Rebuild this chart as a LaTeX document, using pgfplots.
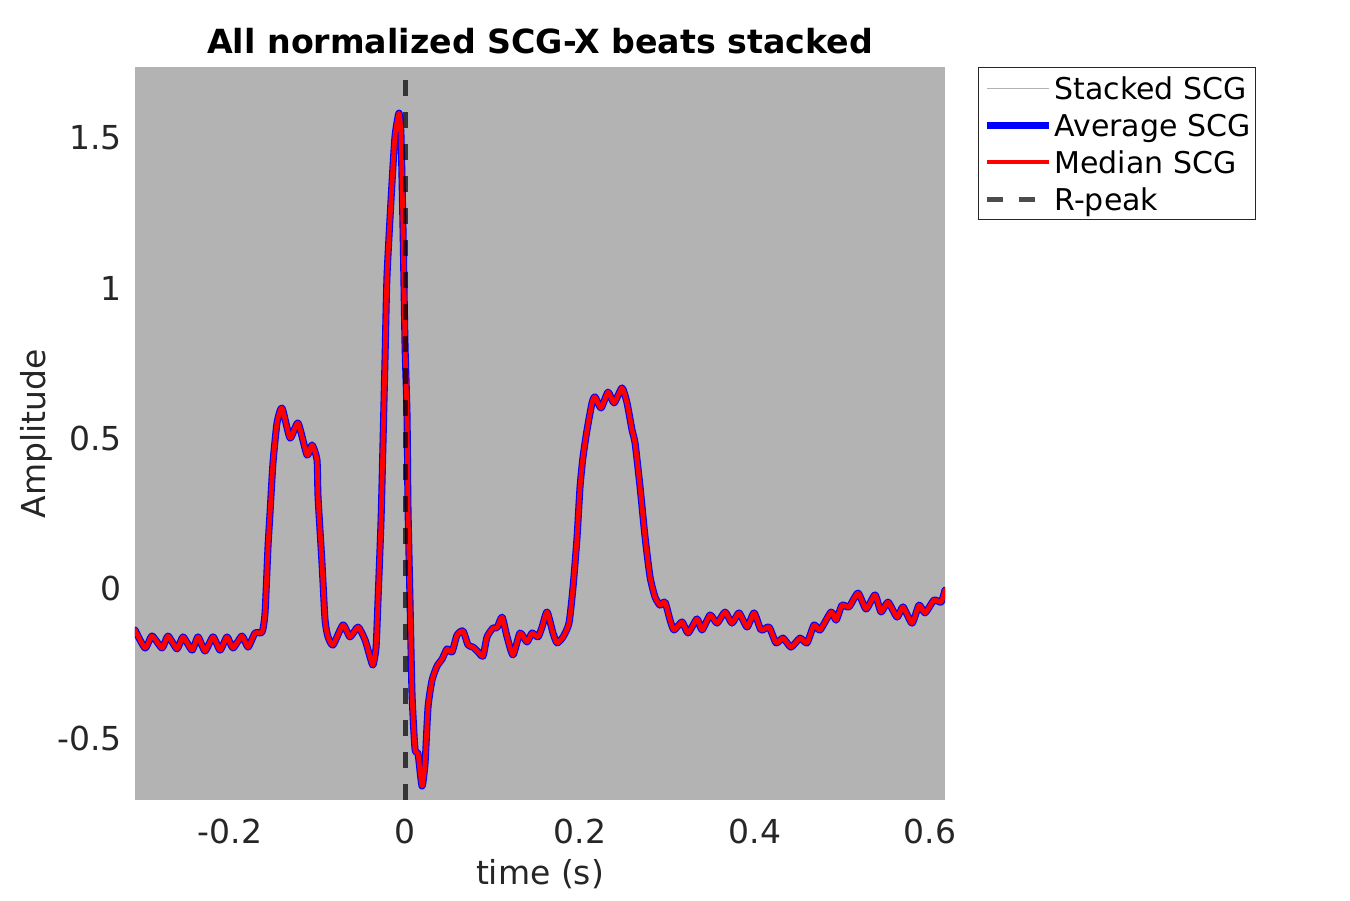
\documentclass[border=0pt]{standalone}
\usepackage{pgfplots}
\pgfplotsset{compat=1.18}
\usepackage{pgfplotstable}
\usepackage{fontspec}
\setmainfont{DejaVu Sans}
\definecolor{axbg}{rgb}{0.702,0.702,0.702}
\definecolor{txtgray}{rgb}{0.15,0.15,0.15}

\pgfplotstableread{
t y
-0.3086 -0.140
-0.2971 -0.200
-0.2891 -0.160
-0.2777 -0.200
-0.2709 -0.160
-0.2606 -0.203
-0.2537 -0.163
-0.2434 -0.207
-0.2366 -0.163
-0.2286 -0.210
-0.2194 -0.163
-0.2114 -0.207
-0.2034 -0.163
-0.1966 -0.200
-0.1863 -0.160
-0.1794 -0.197
-0.1714 -0.150
-0.1634 -0.147
-0.1600 -0.083
-0.1566 0.137
-0.1543 0.250
-0.1509 0.417
-0.1463 0.550
-0.1406 0.600
-0.1314 0.500
-0.1223 0.550
-0.1120 0.443
-0.1063 0.477
-0.1006 0.427
-0.0994 0.303
-0.0949 0.083
-0.0914 -0.107
-0.0880 -0.163
-0.0823 -0.190
-0.0709 -0.123
-0.0629 -0.163
-0.0537 -0.130
-0.0457 -0.173
-0.0400 -0.230
-0.0366 -0.257
-0.0331 -0.197
-0.0309 -0.043
-0.0274 0.227
-0.0251 0.493
-0.0229 0.760
-0.0206 1.040
-0.0149 1.350
-0.0114 1.507
-0.0069 1.583
-0.0046 1.510
-0.0023 1.197
0.0000 0.810
0.0023 0.577
0.0034 0.267
0.0057 -0.043
0.0080 -0.353
0.0114 -0.537
0.0149 -0.553
0.0194 -0.660
0.0229 -0.583
0.0263 -0.397
0.0309 -0.307
0.0366 -0.260
0.0423 -0.237
0.0480 -0.203
0.0537 -0.213
0.0594 -0.157
0.0663 -0.143
0.0720 -0.190
0.0777 -0.197
0.0834 -0.213
0.0891 -0.227
0.0937 -0.163
0.1006 -0.133
0.1051 -0.133
0.1109 -0.097
0.1166 -0.163
0.1234 -0.223
0.1314 -0.150
0.1394 -0.180
0.1451 -0.150
0.1520 -0.163
0.1566 -0.130
0.1623 -0.080
0.1691 -0.150
0.1737 -0.183
0.1806 -0.163
0.1874 -0.117
0.1920 0.003
0.1966 0.170
0.2000 0.337
0.2034 0.437
0.2080 0.527
0.2137 0.617
0.2171 0.637
0.2240 0.600
0.2320 0.653
0.2389 0.617
0.2480 0.667
0.2537 0.617
0.2594 0.527
0.2629 0.483
0.2686 0.337
0.2743 0.170
0.2800 0.037
0.2857 -0.030
0.2914 -0.057
0.2971 -0.047
0.3029 -0.107
0.3074 -0.140
0.3166 -0.113
0.3234 -0.150
0.3337 -0.103
0.3394 -0.140
0.3486 -0.090
0.3566 -0.117
0.3657 -0.080
0.3737 -0.117
0.3817 -0.083
0.3909 -0.130
0.3989 -0.083
0.4069 -0.140
0.4160 -0.130
0.4240 -0.183
0.4320 -0.167
0.4411 -0.197
0.4514 -0.167
0.4594 -0.183
0.4674 -0.123
0.4743 -0.140
0.4869 -0.080
0.4926 -0.107
0.4994 -0.057
0.5074 -0.063
0.5177 -0.017
0.5269 -0.070
0.5371 -0.023
0.5440 -0.080
0.5520 -0.047
0.5623 -0.097
0.5691 -0.063
0.5794 -0.117
0.5874 -0.057
0.5943 -0.083
0.6046 -0.040
0.6126 -0.047
0.6171 -0.007
}\scg

\begin{document}
\begin{tikzpicture}
\fill[white] (-54pt,-40pt) rectangle (486pt,320pt);
\useasboundingbox (-54pt,-40pt) rectangle (486pt,320pt);
\begin{axis}[
  at={(0,0)}, anchor=south west,
  width=324pt, height=293.2pt, scale only axis,
  xmin=-0.3086, xmax=0.6171, ymin=-0.7067, ymax=1.7367,
  axis background/.style={fill=axbg},
  axis line style={draw=none},
  major tick style={draw=none},
  xtick={-0.2,0,0.2,0.4,0.6},
  xticklabels={-0.2,0,0.2,0.4,0.6},
  ytick={-0.5,0,0.5,1,1.5},
  yticklabels={-0.5,0,0.5,1,1.5},
  xticklabel style={font=\fontsize{13.2}{15}\selectfont, text=txtgray, anchor=base, inner sep=0pt, yshift=-17.2pt},
  yticklabel style={font=\fontsize{13.2}{15}\selectfont, text=txtgray, anchor=east, inner sep=0pt, xshift=-5.2pt},
  every axis x label/.style={at={(axis description cs:0.5,-0.1146)}, anchor=base, font=\fontsize{13.2}{15}\selectfont, text=txtgray},
  every axis y label/.style={at={(axis description cs:-0.1099,0.5)}, anchor=base, rotate=90, font=\fontsize{13.2}{15}\selectfont, text=txtgray},
  every axis title/.style={at={(axis description cs:0.5,1.0191)}, anchor=base, font=\bfseries\fontsize{13.3}{15}\selectfont, text=black},
  xlabel={time (s)},
  ylabel={Amplitude},
  title={All normalized SCG-X beats stacked},
  legend cell align=left,
  legend style={at={(1.0407,1)}, anchor=north west, draw=txtgray, line width=0.4pt, fill=white,
    inner xsep=2pt, inner ysep=0.8pt, row sep=0pt, column sep=0pt,
    font=\fontsize{12}{14.8}\selectfont,
    nodes={inner sep=0pt, text height=11.8pt, text depth=3pt, text=black}},
  legend image code/.code={\draw[#1, line cap=butt] (0pt,0pt) -- (24.8pt,0pt); \path (25.6pt,0pt);},
]
\addlegendimage{color=axbg, line width=0.4pt}
\addlegendentry{Stacked SCG}
\addplot[blue, line width=2.8pt, line join=round, line cap=round, smooth, tension=0.35] table {\scg};
\addlegendentry{Average SCG}
\addplot[red, line width=1.9pt, line join=round, line cap=round, smooth, tension=0.35] table {\scg};
\addlegendentry{Median SCG}
\addplot[black, opacity=0.7, line width=2pt, dash pattern=on 6.4pt off 6.4pt] coordinates {(0,-0.7067) (0,1.7367)};
\addlegendentry{R-peak}
\end{axis}
\end{tikzpicture}
\end{document}
